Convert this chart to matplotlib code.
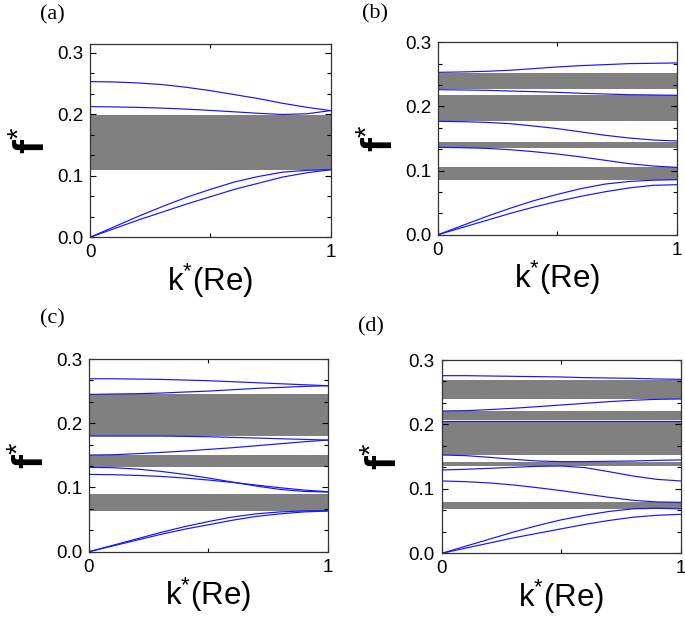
import numpy as np
import matplotlib
matplotlib.use("Agg")
import matplotlib.pyplot as plt
from matplotlib.ticker import MultipleLocator

plt.rcParams['font.family'] = 'Liberation Sans'
plt.rcParams['mathtext.fontset'] = 'custom'
plt.rcParams['mathtext.rm'] = 'Liberation Sans'
plt.rcParams['mathtext.bf'] = 'Liberation Sans:bold'
plt.rcParams['mathtext.it'] = 'Liberation Sans:italic'

# reduced wave number, sampled every 0.1
k = [0.0, 0.1, 0.2, 0.3, 0.4, 0.5, 0.6, 0.7, 0.8, 0.9, 1.0]

# (a) band gaps (low, high) and dispersion branches
a_gaps = [(0.110, 0.199)]
a_br1 = [0.2534, 0.2528, 0.2512, 0.2485, 0.2441, 0.2387, 0.2322, 0.2257, 0.2181, 0.2116, 0.2062]
a_br2 = [0.2127, 0.2122, 0.2114, 0.2102, 0.2086, 0.2065, 0.2042, 0.2018, 0.1999, 0.2010, 0.2062]
a_br3 = [0.0, 0.017, 0.034, 0.050, 0.065, 0.078, 0.090, 0.099, 0.106, 0.109, 0.110]
a_br4 = [0.0, 0.014, 0.028, 0.041, 0.054, 0.066, 0.078, 0.088, 0.098, 0.105, 0.110]

# (b)
b_gaps = [(0.2278, 0.2522), (0.1778, 0.2174), (0.1352, 0.1446), (0.0858, 0.1050)]
b_br1 = [0.2532, 0.2538, 0.2548, 0.2564, 0.2590, 0.2616, 0.2637, 0.2652, 0.2668, 0.2673, 0.2678]
b_br2 = [0.2262, 0.2257, 0.2252, 0.2241, 0.2231, 0.2220, 0.2205, 0.2194, 0.2184, 0.2179, 0.2174]
b_br3 = [0.1768, 0.1763, 0.1752, 0.1732, 0.1695, 0.1654, 0.1602, 0.1550, 0.1508, 0.1477, 0.1461]
b_br4 = [0.1362, 0.1357, 0.1347, 0.1326, 0.1295, 0.1258, 0.1212, 0.1160, 0.1108, 0.1071, 0.1050]
b_br5 = [0.0, 0.014, 0.028, 0.041, 0.053, 0.063, 0.072, 0.079, 0.083, 0.085, 0.0858]
b_br6 = [0.0, 0.011, 0.022, 0.033, 0.043, 0.052, 0.060, 0.067, 0.073, 0.077, 0.078]

# (c)
c_gaps = [(0.1801, 0.2449), (0.1323, 0.1505), (0.0638, 0.0893)]
c_br1 = [0.2693, 0.2693, 0.2688, 0.2683, 0.2673, 0.2662, 0.2647, 0.2631, 0.2615, 0.2600, 0.2584]
c_br2 = [0.2449, 0.2455, 0.2460, 0.2470, 0.2486, 0.2501, 0.2522, 0.2543, 0.2558, 0.2574, 0.2584]
c_br3 = [0.1801, 0.1801, 0.1801, 0.1801, 0.1796, 0.1790, 0.1780, 0.1770, 0.1759, 0.1749, 0.1738]
c_br4 = [0.1505, 0.1510, 0.1526, 0.1546, 0.1567, 0.1593, 0.1619, 0.1650, 0.1681, 0.1712, 0.1738]
c_br5 = [0.1313, 0.1308, 0.1287, 0.1251, 0.1204, 0.1147, 0.1085, 0.1022, 0.0970, 0.0939, 0.0929]
c_br6 = [0.1204, 0.1199, 0.1188, 0.1173, 0.1147, 0.1116, 0.1079, 0.1038, 0.0996, 0.0960, 0.0934]
c_br7 = [0.0, 0.010, 0.020, 0.030, 0.039, 0.047, 0.054, 0.059, 0.062, 0.0635, 0.0638]
c_br8 = [0.0, 0.009, 0.018, 0.027, 0.035, 0.042, 0.049, 0.055, 0.059, 0.062, 0.0633]

# (d)
d_gaps = [(0.2395, 0.2690), (0.2064, 0.2214), (0.1526, 0.2054), (0.1355, 0.1412), (0.0688, 0.0792)]
d_br1 = [0.2757, 0.2757, 0.2752, 0.2747, 0.2742, 0.2737, 0.2726, 0.2721, 0.2716, 0.2706, 0.2700]
d_br2 = [0.2209, 0.2214, 0.2230, 0.2251, 0.2276, 0.2302, 0.2328, 0.2354, 0.2375, 0.2390, 0.2395]
d_br3 = [0.2054, 0.2054, 0.2054, 0.2054, 0.2054, 0.2054, 0.2054, 0.2054, 0.2054, 0.2054, 0.2054]
d_br4 = [0.1526, 0.1516, 0.1490, 0.1459, 0.1433, 0.1423, 0.1423, 0.1428, 0.1433, 0.1443, 0.1449]
d_br5 = [0.1293, 0.1304, 0.1319, 0.1335, 0.1350, 0.1355, 0.1330, 0.1267, 0.1200, 0.1148, 0.1123]
d_br6 = [0.1123, 0.1112, 0.1092, 0.1061, 0.1019, 0.0973, 0.0921, 0.0869, 0.0823, 0.0797, 0.0792]
d_br7 = [0.0, 0.011, 0.022, 0.033, 0.043, 0.052, 0.059, 0.065, 0.069, 0.070, 0.069]
d_br8 = [0.0, 0.008, 0.016, 0.024, 0.031, 0.038, 0.045, 0.051, 0.056, 0.059, 0.0605]

panels = [
    ("(a)", a_gaps, [a_br1, a_br2, a_br3, a_br4], 0.3146),
    ("(b)", b_gaps, [b_br1, b_br2, b_br3, b_br4, b_br5, b_br6], 0.3),
    ("(c)", c_gaps, [c_br1, c_br2, c_br3, c_br4, c_br5, c_br6, c_br7, c_br8], 0.3),
    ("(d)", d_gaps, [d_br1, d_br2, d_br3, d_br4, d_br5, d_br6, d_br7, d_br8], 0.3),
]

# axes rectangles in figure fractions, plus where the panel letter goes
rects = [[0.1314, 0.6154, 0.3514, 0.3133],
         [0.6394, 0.6196, 0.3489, 0.3118],
         [0.1299, 0.1058, 0.3489, 0.3123],
         [0.6448, 0.1032, 0.3489, 0.3133]]
letter_pos = [(0.058, 0.976), (0.528, 0.978), (0.058, 0.484), (0.523, 0.471)]

fig = plt.figure(figsize=(6.85, 6.17), dpi=100)

for (name, gaps, branches, ytop), rect, lp in zip(panels, rects, letter_pos):
    ax = fig.add_axes(rect)
    for lo, hi in gaps:
        ax.axhspan(lo, hi, color='#808080', lw=0, zorder=1)
    for br in branches:
        ax.plot(k, br, color='#1414ff', lw=0.85, zorder=2)

    ax.set_xlim(0, 1)
    ax.set_ylim(0, ytop)
    ax.set_xticks([0, 1])
    ax.set_xticklabels(['0', '1'])
    ax.xaxis.set_minor_locator(MultipleLocator(0.5))
    ax.set_yticks([0.0, 0.1, 0.2, 0.3])
    ax.set_yticklabels(['0.0', '0.1', '0.2', '0.3'])
    ax.yaxis.set_minor_locator(MultipleLocator(0.1 / 3))
    ax.tick_params(which='both', direction='in', top=True, right=True,
                   labelsize=13.5, width=0.8, pad=5)
    ax.tick_params(which='major', length=4)
    ax.tick_params(which='minor', length=3)
    for sp in ax.spines.values():
        sp.set_linewidth(0.9)
        sp.set_color('#333333')

    ax.set_xlabel(r'k$^{*}$(Re)', fontsize=22.5, labelpad=0)
    ax.set_ylabel(r'$\mathbf{f}^{*}$', fontsize=30, labelpad=2)

    fig.text(lp[0], lp[1], name, fontsize=16, family='Liberation Serif',
             ha='left', va='center')

fig.savefig('out.png', dpi=100)
